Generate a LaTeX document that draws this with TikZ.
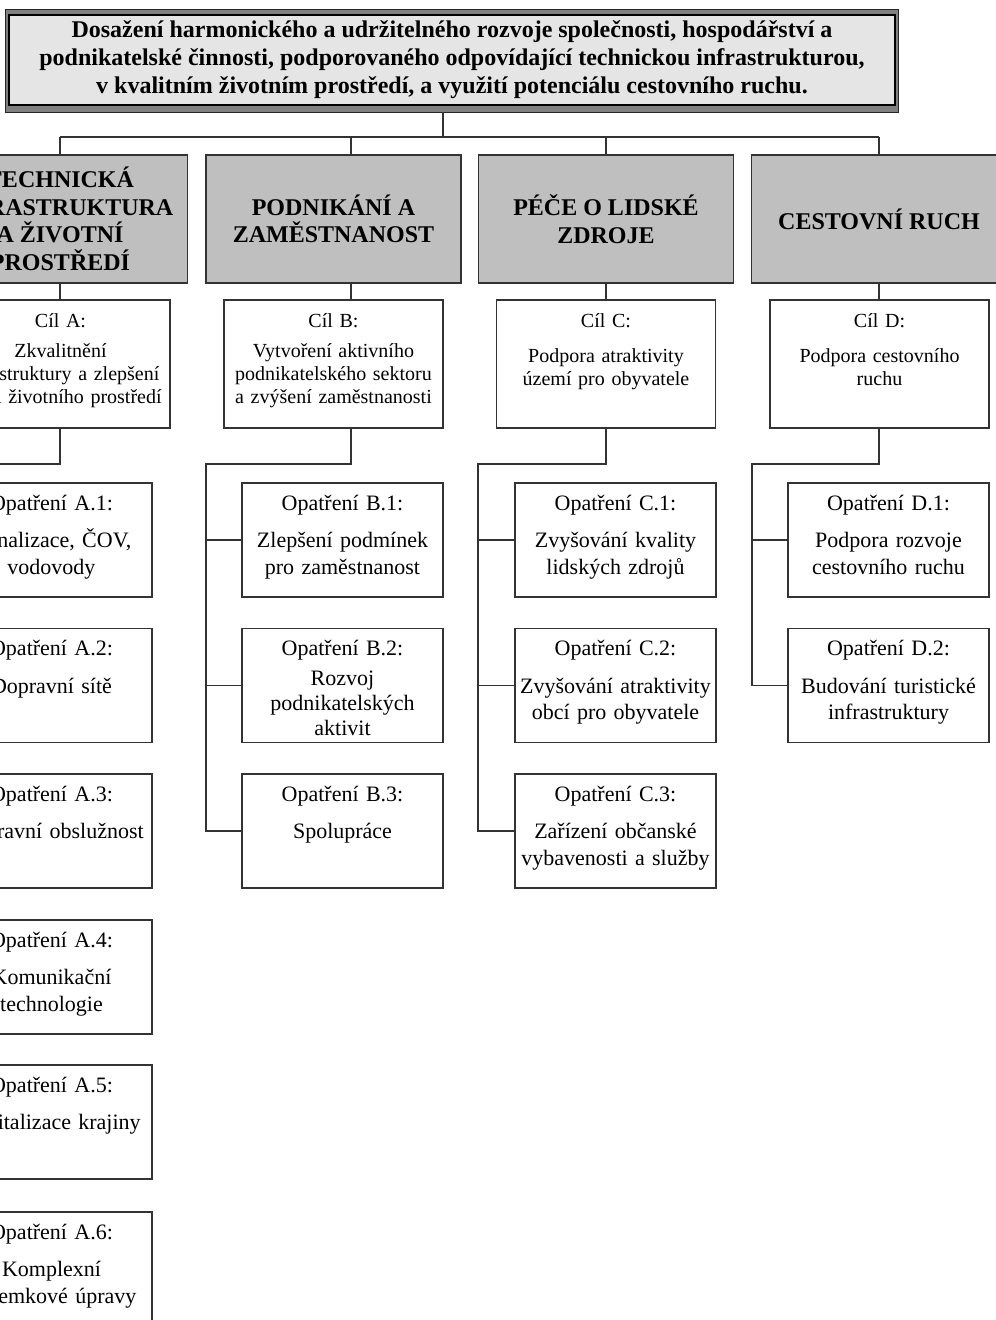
\documentclass[tikz,border=0pt]{standalone}
\usepackage{fontspec}
\setmainfont{Liberation Serif}

\tikzset{
  goalrim/.style={draw=black!85, line width=0.8pt, fill=black!50,
    minimum width=893pt, minimum height=103pt, inner sep=0pt},
  goalbox/.style={draw=black, line width=1.6pt, fill=black!10,
    minimum width=886pt, minimum height=90pt, inner sep=0pt, align=center,
    font=\fontsize{24}{28}\selectfont\bfseries},
  areabox/.style={draw=black!80, line width=1.2pt, fill=black!25,
    minimum width=255pt, minimum height=128pt, inner sep=0pt, align=center,
    font=\fontsize{24}{27.5}\selectfont\bfseries},
  aimbox/.style={draw=black!80, line width=1.2pt, fill=white, inner sep=0pt,
    text width=219pt, align=center, text height=27pt, text depth=101pt,
    font=\fontsize{20}{23}\selectfont},
  opbox/.style={draw=black!80, line width=1.2pt, fill=white, inner sep=0pt,
    text width=201pt, align=center, text height=27pt, text depth=87pt,
    font=\fontsize{22}{26.5}\selectfont},
  link/.style={draw=black!80, line width=1.2pt}
}

\begin{document}
\begin{tikzpicture}[x=1pt, y=-1pt]
  \useasboundingbox (0,0) rectangle (996,1320);
  \clip (0,0) rectangle (996,1320);

  % Main goal
  \node[goalrim] (goalrim) at (451.5,60.5) {};
  \node[goalbox] (goal) at (452,60) {Dosažení harmonického a udržitelného rozvoje společnosti, hospodářství a\\
    podnikatelské činnosti, podporovaného odpovídající technickou infrastrukturou,\\
    v kvalitním životním prostředí, a využití potenciálu cestovního ruchu.};

  % Priority areas
  \node[areabox] (areaA) at (60,219) {TECHNICKÁ\\INFRASTRUKTURA\\A ŽIVOTNÍ\\PROSTŘEDÍ};
  \node[areabox] (areaB) at (333.5,219) {PODNIKÁNÍ A\\ZAMĚSTNANOST};
  \node[areabox] (areaC) at (606,219) {PÉČE O LIDSKÉ\\ZDROJE};
  \node[areabox] (areaD) at (879,219) {CESTOVNÍ RUCH};

  % Goals (Cíl)
  \node[aimbox] (aimA) at (60.5,364) {Cíl A:\\[7pt]Zkvalitnění\\infrastruktury a zlepšení\\stavu životního prostředí};
  \node[aimbox] (aimB) at (333.5,364) {Cíl B:\\[7pt]Vytvoření aktivního\\podnikatelského sektoru\\a zvýšení zaměstnanosti};
  \node[aimbox] (aimC) at (606,364) {Cíl C:\\[12pt]Podpora atraktivity\\území pro obyvatele};
  \node[aimbox] (aimD) at (879.5,364) {Cíl D:\\[12pt]Podpora cestovního\\ruchu};

  % Measures A
  \node[opbox] (opA1) at (51.5,540) {Opatření A.1:\\[11pt]Kanalizace, ČOV,\\vodovody};
  \node[opbox] (opA2) at (51.5,685.5) {Opatření A.2:\\[11pt]Dopravní sítě};
  \node[opbox] (opA3) at (51.5,831) {Opatření A.3:\\[11pt]Dopravní obslužnost};
  \node[opbox] (opA4) at (51.5,977) {Opatření A.4:\\[11pt]Komunikační\\technologie};
  \node[opbox] (opA5) at (51.5,1122) {Opatření A.5:\\[11pt]Revitalizace krajiny};
  \node[opbox] (opA6) at (51.5,1269) {Opatření A.6:\\[11pt]Komplexní\\pozemkové úpravy};
  % Measures B
  \node[opbox] (opB1) at (342.5,540) {Opatření B.1:\\[11pt]Zlepšení podmínek\\pro zaměstnanost};
  \node[opbox] (opB2) at (342.5,685.5) {Opatření B.2:\\[3pt]Rozvoj\\[-1.5pt]podnikatelských\\[-1.5pt]aktivit};
  \node[opbox] (opB3) at (342.5,831) {Opatření B.3:\\[11pt]Spolupráce};
  % Measures C
  \node[opbox] (opC1) at (615.5,540) {Opatření C.1:\\[11pt]Zvyšování kvality\\lidských zdrojů};
  \node[opbox] (opC2) at (615.5,685.5) {Opatření C.2:\\[11pt]Zvyšování atraktivity\\obcí pro obyvatele};
  \node[opbox] (opC3) at (615.5,831) {Opatření C.3:\\[11pt]Zařízení občanské\\vybavenosti a služby};
  % Measures D
  \node[opbox] (opD1) at (888.5,540) {Opatření D.1:\\[11pt]Podpora rozvoje\\cestovního ruchu};
  \node[opbox] (opD2) at (888.5,685.5) {Opatření D.2:\\[11pt]Budování turistické\\infrastruktury};

  % Junction points
  \coordinate (hub) at (443,137);
  \coordinate (tieB) at (351,137);
  \coordinate (forkA) at (-85,464);
  \coordinate (forkB) at (206,464);
  \coordinate (forkC) at (478,464);
  \coordinate (forkD) at (752,464);

  % Goal to areas
  \draw[link] (goalrim.south -| hub) -- (hub);
  \draw[link] (areaA.north |- hub) -- (areaD.north |- hub);
  \draw[link] (areaA.north |- hub) -- (areaA.north);
  \draw[link] (tieB) -- (tieB |- areaB.north);
  \draw[link] (areaC.north |- hub) -- (areaC.north);
  \draw[link] (areaD.north |- hub) -- (areaD.north);

  % Areas to goals
  \draw[link] (areaA.south) -- (areaA.south |- aimA.north);
  \draw[link] (tieB |- areaB.south) -- (tieB |- aimB.north);
  \draw[link] (areaC.south) -- (areaC.south |- aimC.north);
  \draw[link] (areaD.south) -- (areaD.south |- aimD.north);

  % Goals to measures
  \draw[link] (aimA.south -| areaA.south) -- (areaA.south |- forkA) -- (forkA) |- (opA6.west);
  \draw[link] (forkA |- opA1.west) -- (opA1.west);
  \draw[link] (forkA |- opA2.west) -- (opA2.west);
  \draw[link] (forkA |- opA3.west) -- (opA3.west);
  \draw[link] (forkA |- opA4.west) -- (opA4.west);
  \draw[link] (forkA |- opA5.west) -- (opA5.west);

  \draw[link] (tieB |- aimB.south) -- (tieB |- forkB) -- (forkB) |- (opB3.west);
  \draw[link] (forkB |- opB1.west) -- (opB1.west);
  \draw[link] (forkB |- opB2.west) -- (opB2.west);

  \draw[link] (aimC.south -| areaC.south) -- (areaC.south |- forkC) -- (forkC) |- (opC3.west);
  \draw[link] (forkC |- opC1.west) -- (opC1.west);
  \draw[link] (forkC |- opC2.west) -- (opC2.west);

  \draw[link] (aimD.south -| areaD.south) -- (areaD.south |- forkD) -- (forkD) |- (opD2.west);
  \draw[link] (forkD |- opD1.west) -- (opD1.west);
\end{tikzpicture}
\end{document}
